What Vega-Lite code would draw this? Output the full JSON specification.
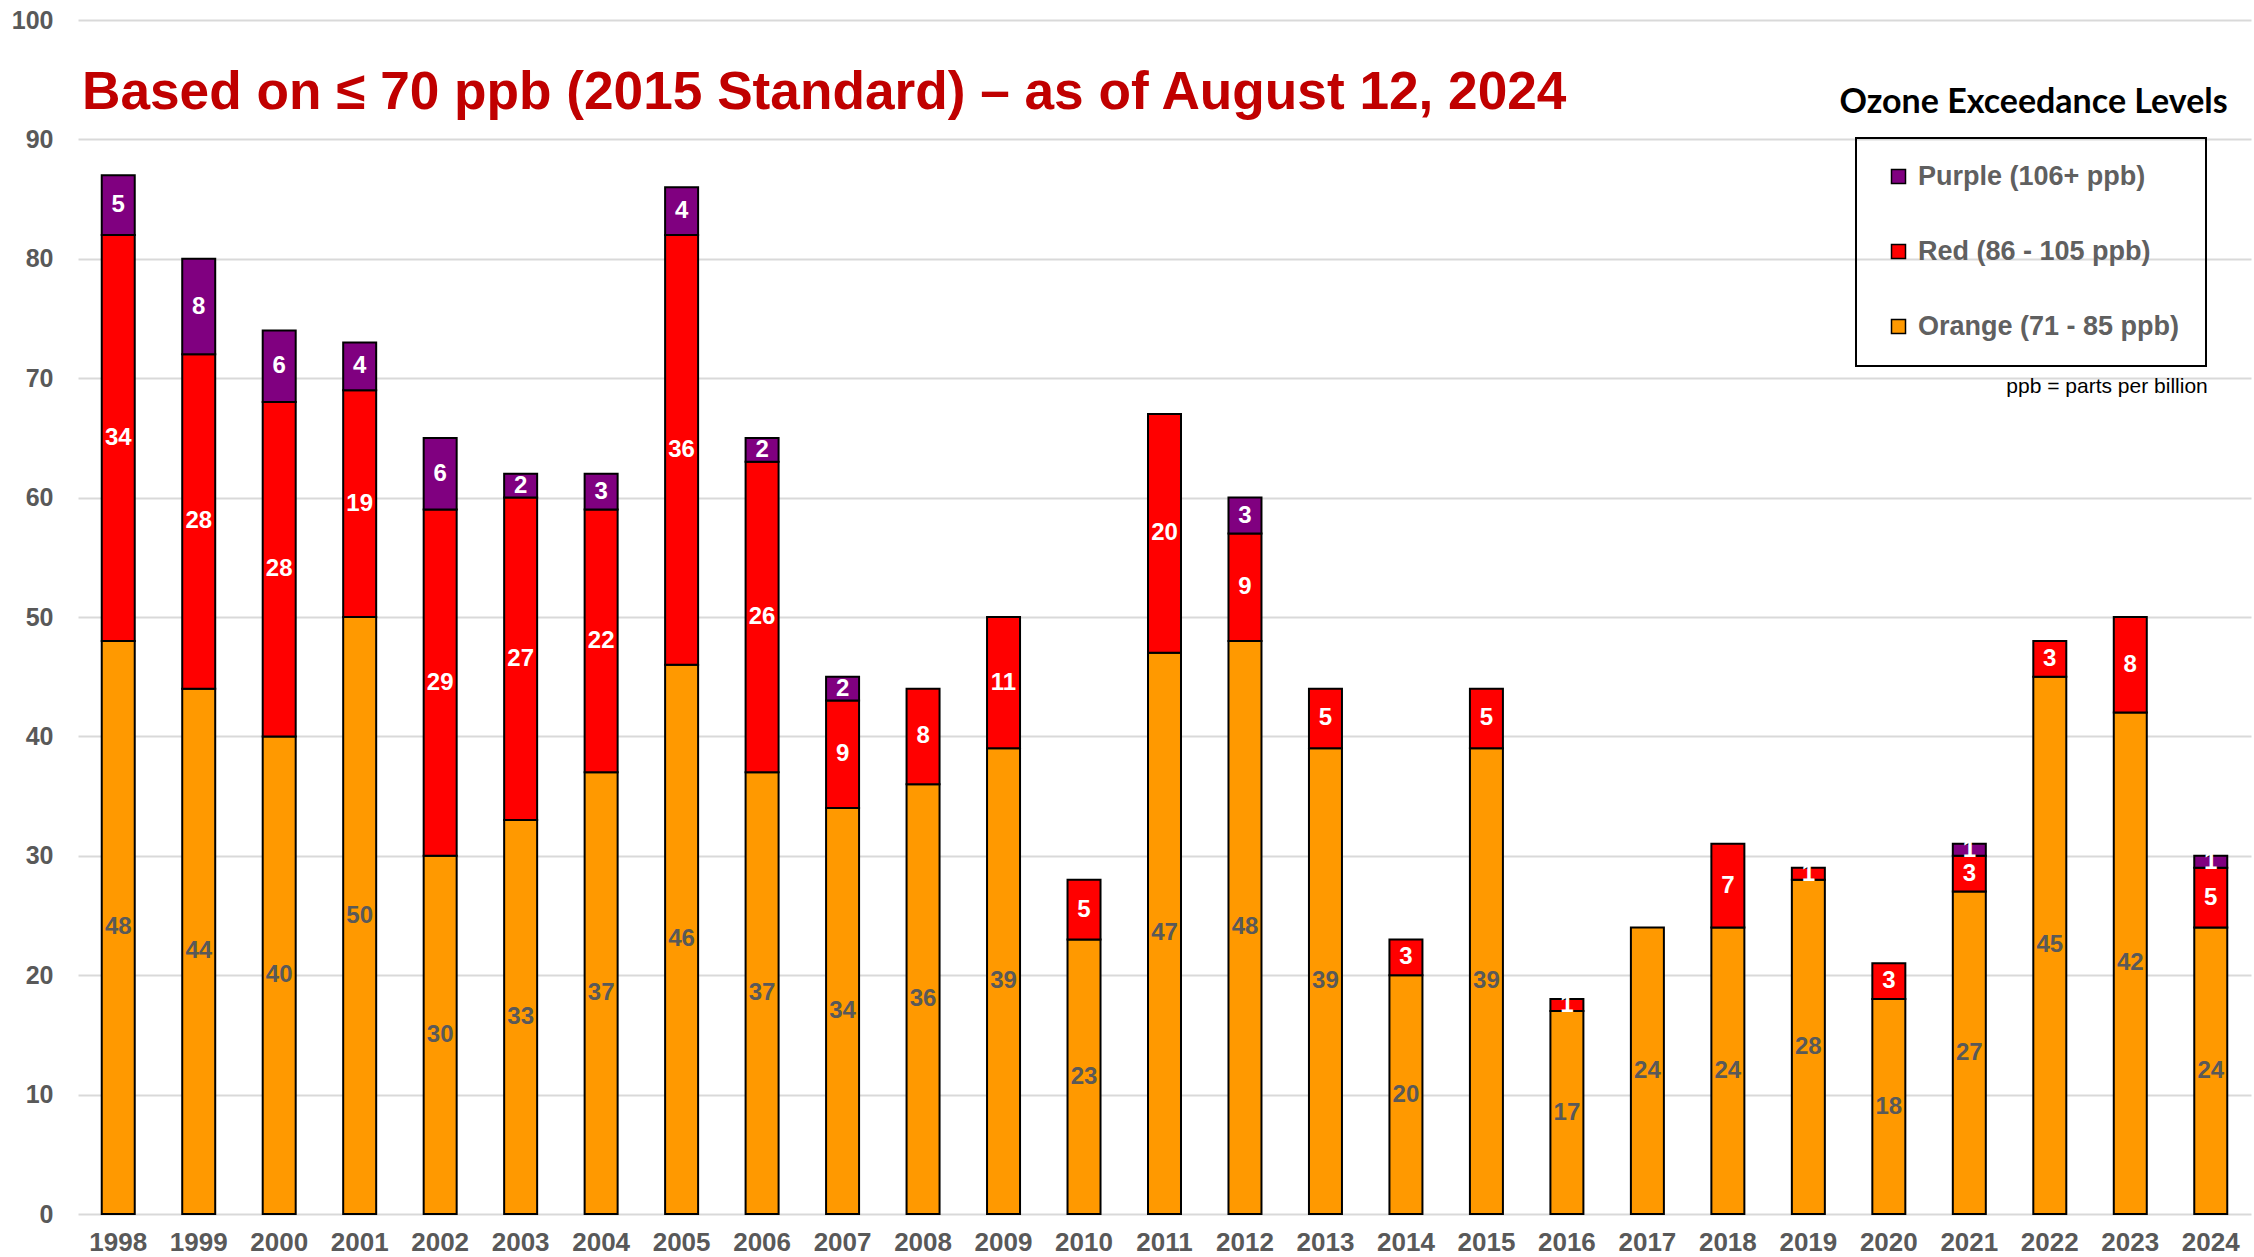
{
  "$schema": "https://vega.github.io/schema/vega-lite/v6.json",
  "width": 2173,
  "height": 1194,
  "autosize": {"type": "none"},
  "padding": {"left": 78, "top": 20, "right": 3, "bottom": 43},
  "background": "white",
  "title": {
    "text": "Based on ≤ 70 ppb (2015 Standard) – as of August 12, 2024",
    "anchor": "start",
    "frame": "group",
    "orient": "top",
    "offset": -90,
    "baseline": "alphabetic",
    "dx": 4,
    "dy": 64,
    "font": "Liberation Sans",
    "fontSize": 53.2,
    "fontWeight": "bold",
    "color": "#C00000"
  },
  "config": {"view": {"stroke": null}},
  "datasets": {
    "bars": [
      {"year": "1998", "level": "Orange (71 - 85 ppb)", "order": 1, "value": 48},
      {"year": "1998", "level": "Red (86 - 105 ppb)", "order": 2, "value": 34},
      {"year": "1998", "level": "Purple (106+ ppb)", "order": 3, "value": 5},
      {"year": "1999", "level": "Orange (71 - 85 ppb)", "order": 1, "value": 44},
      {"year": "1999", "level": "Red (86 - 105 ppb)", "order": 2, "value": 28},
      {"year": "1999", "level": "Purple (106+ ppb)", "order": 3, "value": 8},
      {"year": "2000", "level": "Orange (71 - 85 ppb)", "order": 1, "value": 40},
      {"year": "2000", "level": "Red (86 - 105 ppb)", "order": 2, "value": 28},
      {"year": "2000", "level": "Purple (106+ ppb)", "order": 3, "value": 6},
      {"year": "2001", "level": "Orange (71 - 85 ppb)", "order": 1, "value": 50},
      {"year": "2001", "level": "Red (86 - 105 ppb)", "order": 2, "value": 19},
      {"year": "2001", "level": "Purple (106+ ppb)", "order": 3, "value": 4},
      {"year": "2002", "level": "Orange (71 - 85 ppb)", "order": 1, "value": 30},
      {"year": "2002", "level": "Red (86 - 105 ppb)", "order": 2, "value": 29},
      {"year": "2002", "level": "Purple (106+ ppb)", "order": 3, "value": 6},
      {"year": "2003", "level": "Orange (71 - 85 ppb)", "order": 1, "value": 33},
      {"year": "2003", "level": "Red (86 - 105 ppb)", "order": 2, "value": 27},
      {"year": "2003", "level": "Purple (106+ ppb)", "order": 3, "value": 2},
      {"year": "2004", "level": "Orange (71 - 85 ppb)", "order": 1, "value": 37},
      {"year": "2004", "level": "Red (86 - 105 ppb)", "order": 2, "value": 22},
      {"year": "2004", "level": "Purple (106+ ppb)", "order": 3, "value": 3},
      {"year": "2005", "level": "Orange (71 - 85 ppb)", "order": 1, "value": 46},
      {"year": "2005", "level": "Red (86 - 105 ppb)", "order": 2, "value": 36},
      {"year": "2005", "level": "Purple (106+ ppb)", "order": 3, "value": 4},
      {"year": "2006", "level": "Orange (71 - 85 ppb)", "order": 1, "value": 37},
      {"year": "2006", "level": "Red (86 - 105 ppb)", "order": 2, "value": 26},
      {"year": "2006", "level": "Purple (106+ ppb)", "order": 3, "value": 2},
      {"year": "2007", "level": "Orange (71 - 85 ppb)", "order": 1, "value": 34},
      {"year": "2007", "level": "Red (86 - 105 ppb)", "order": 2, "value": 9},
      {"year": "2007", "level": "Purple (106+ ppb)", "order": 3, "value": 2},
      {"year": "2008", "level": "Orange (71 - 85 ppb)", "order": 1, "value": 36},
      {"year": "2008", "level": "Red (86 - 105 ppb)", "order": 2, "value": 8},
      {"year": "2009", "level": "Orange (71 - 85 ppb)", "order": 1, "value": 39},
      {"year": "2009", "level": "Red (86 - 105 ppb)", "order": 2, "value": 11},
      {"year": "2010", "level": "Orange (71 - 85 ppb)", "order": 1, "value": 23},
      {"year": "2010", "level": "Red (86 - 105 ppb)", "order": 2, "value": 5},
      {"year": "2011", "level": "Orange (71 - 85 ppb)", "order": 1, "value": 47},
      {"year": "2011", "level": "Red (86 - 105 ppb)", "order": 2, "value": 20},
      {"year": "2012", "level": "Orange (71 - 85 ppb)", "order": 1, "value": 48},
      {"year": "2012", "level": "Red (86 - 105 ppb)", "order": 2, "value": 9},
      {"year": "2012", "level": "Purple (106+ ppb)", "order": 3, "value": 3},
      {"year": "2013", "level": "Orange (71 - 85 ppb)", "order": 1, "value": 39},
      {"year": "2013", "level": "Red (86 - 105 ppb)", "order": 2, "value": 5},
      {"year": "2014", "level": "Orange (71 - 85 ppb)", "order": 1, "value": 20},
      {"year": "2014", "level": "Red (86 - 105 ppb)", "order": 2, "value": 3},
      {"year": "2015", "level": "Orange (71 - 85 ppb)", "order": 1, "value": 39},
      {"year": "2015", "level": "Red (86 - 105 ppb)", "order": 2, "value": 5},
      {"year": "2016", "level": "Orange (71 - 85 ppb)", "order": 1, "value": 17},
      {"year": "2016", "level": "Red (86 - 105 ppb)", "order": 2, "value": 1},
      {"year": "2017", "level": "Orange (71 - 85 ppb)", "order": 1, "value": 24},
      {"year": "2018", "level": "Orange (71 - 85 ppb)", "order": 1, "value": 24},
      {"year": "2018", "level": "Red (86 - 105 ppb)", "order": 2, "value": 7},
      {"year": "2019", "level": "Orange (71 - 85 ppb)", "order": 1, "value": 28},
      {"year": "2019", "level": "Red (86 - 105 ppb)", "order": 2, "value": 1},
      {"year": "2020", "level": "Orange (71 - 85 ppb)", "order": 1, "value": 18},
      {"year": "2020", "level": "Red (86 - 105 ppb)", "order": 2, "value": 3},
      {"year": "2021", "level": "Orange (71 - 85 ppb)", "order": 1, "value": 27},
      {"year": "2021", "level": "Red (86 - 105 ppb)", "order": 2, "value": 3},
      {"year": "2021", "level": "Purple (106+ ppb)", "order": 3, "value": 1},
      {"year": "2022", "level": "Orange (71 - 85 ppb)", "order": 1, "value": 45},
      {"year": "2022", "level": "Red (86 - 105 ppb)", "order": 2, "value": 3},
      {"year": "2023", "level": "Orange (71 - 85 ppb)", "order": 1, "value": 42},
      {"year": "2023", "level": "Red (86 - 105 ppb)", "order": 2, "value": 8},
      {"year": "2024", "level": "Orange (71 - 85 ppb)", "order": 1, "value": 24},
      {"year": "2024", "level": "Red (86 - 105 ppb)", "order": 2, "value": 5},
      {"year": "2024", "level": "Purple (106+ ppb)", "order": 3, "value": 1}
    ],
    "notes": [
      {"label": "Ozone Exceedance Levels", "year": "2024", "v": 93.05, "kind": "title"},
      {"label": "ppb = parts per billion", "year": "2024", "v": 69.3, "kind": "note"}
    ]
  },
  "layer": [
    {
      "data": {"name": "bars"},
      "mark": {"type": "bar", "stroke": "black", "strokeWidth": 2},
      "encoding": {
        "x": {
          "field": "year", "type": "ordinal",
          "scale": {"paddingInner": 0.59, "paddingOuter": 0.295},
          "axis": {
            "title": null, "labelAngle": 0, "ticks": false, "domain": false,
            "labelFont": "Liberation Sans", "labelFontWeight": "bold", "labelFontSize": 26,
            "labelColor": "#595959", "labelPadding": 15
          }
        },
        "y": {
          "field": "value", "type": "quantitative", "stack": "zero",
          "scale": {"domain": [0, 100], "nice": false},
          "axis": {
            "title": null, "values": [0, 10, 20, 30, 40, 50, 60, 70, 80, 90, 100],
            "grid": true, "gridColor": "#D9D9D9", "gridWidth": 2,
            "domain": false, "ticks": false,
            "labelFont": "Liberation Sans", "labelFontWeight": "bold", "labelFontSize": 25,
            "labelColor": "#595959", "labelPadding": 25
          }
        },
        "order": {"field": "order", "type": "quantitative"},
        "color": {
          "field": "level", "type": "nominal",
          "scale": {
            "domain": ["Purple (106+ ppb)", "Red (86 - 105 ppb)", "Orange (71 - 85 ppb)"],
            "range": ["#800080", "#FF0000", "#FF9900"]
          },
          "legend": {
            "orient": "none", "legendX": 1778, "legendY": 118, "title": null,
            "strokeColor": "black", "padding": 26,
            "symbolType": "square", "symbolSize": 196, "symbolStrokeColor": "black",
            "symbolStrokeWidth": 1.5, "symbolOffset": 3,
            "labelFont": "Liberation Sans", "labelFontWeight": "bold", "labelFontSize": 27,
            "labelColor": "#606060", "labelOffset": 6, "rowPadding": 47, "clipHeight": 25,
            "labelLimit": 400,
            "labelExpr": "datum.label + '\u2003'",
            "encode": {
              "legend": {"update": {"strokeWidth": {"value": 2}}},
              "symbols": {"update": {"fillOpacity": {"value": 1}}}
            }
          }
        }
      }
    },
    {
      "data": {"name": "bars"},
      "mark": {"type": "text", "font": "Liberation Sans", "fontWeight": "bold", "fontSize": 24, "baseline": "middle", "align": "center"},
      "encoding": {
        "x": {"field": "year", "type": "ordinal"},
        "y": {"field": "value", "type": "quantitative", "stack": "zero", "bandPosition": 0.5},
        "order": {"field": "order", "type": "quantitative"},
        "detail": {"field": "level"},
        "text": {"field": "value", "type": "quantitative"},
        "color": {"condition": {"test": "datum.order == 1", "value": "#595959"}, "value": "white"}
      }
    },
    {
      "data": {"name": "notes"},
      "transform": [{"filter": "datum.kind == 'title'"}],
      "mark": {"type": "text", "font": "Lato", "fontWeight": "bold", "fontSize": 34, "align": "right", "baseline": "middle", "dx": 17, "color": "black"},
      "encoding": {
        "x": {"field": "year", "type": "ordinal"},
        "y": {"field": "v", "type": "quantitative"},
        "text": {"field": "label"}
      }
    },
    {
      "data": {"name": "notes"},
      "transform": [{"filter": "datum.kind == 'note'"}],
      "mark": {"type": "text", "font": "Liberation Sans", "fontSize": 21, "align": "right", "baseline": "middle", "dx": -3, "color": "black"},
      "encoding": {
        "x": {"field": "year", "type": "ordinal"},
        "y": {"field": "v", "type": "quantitative"},
        "text": {"field": "label"}
      }
    }
  ]
}
